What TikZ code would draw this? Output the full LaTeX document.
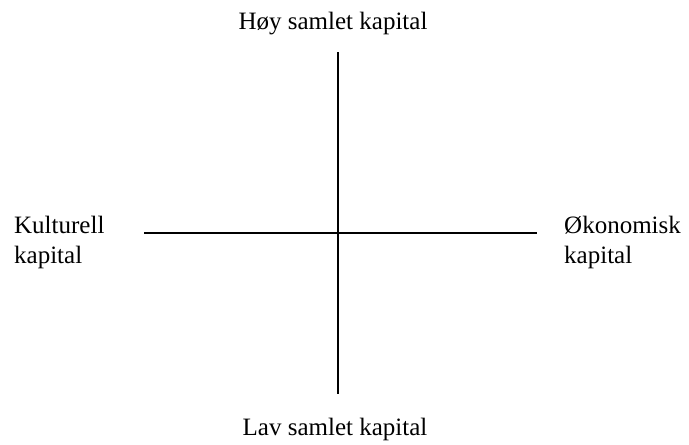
\documentclass[tikz,border=0pt]{standalone}
\usepackage{fontspec}
\setmainfont{Liberation Serif}
\begin{document}
\begin{tikzpicture}[x=1pt,y=-1pt,
  lbl/.style={inner sep=0pt,font=\fontsize{25}{30}\selectfont},
  axis/.style={line width=1.4pt,black}]
\useasboundingbox[fill=white] (0,0) rectangle (689,445);
\coordinate (top) at (338,52);
\coordinate (bot) at (338,394);
\coordinate (lft) at (144,233);
\coordinate (rgt) at (537,233);
\draw[axis] (top) -- (bot);
\draw[axis] (lft) -- (rgt);
\node[lbl,anchor=base] (hoy) at (333,29) {Høy samlet kapital};
\node[lbl,anchor=base] (lav) at (335,435) {Lav samlet kapital};
\node[lbl,anchor=base west,align=left] (kult) at (14,233) {Kulturell};
\node[lbl,anchor=base west] (kult2) at (14,263) {kapital};
\node[lbl,anchor=base west] (oko) at (564,233) {Økonomisk};
\node[lbl,anchor=base west] (oko2) at (564,263) {kapital};
\end{tikzpicture}
\end{document}
